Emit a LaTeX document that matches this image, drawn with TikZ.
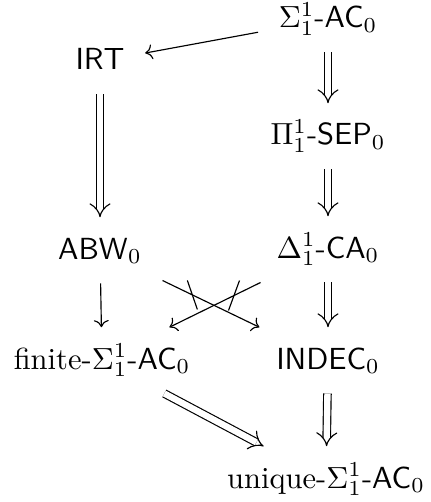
\documentclass[tikz,border=0pt]{standalone}
\usepackage{fix-cm}
\usetikzlibrary{arrows.meta,calc}
\begin{document}
\begin{tikzpicture}[x=0.3472pt,y=-0.3472pt,
  every node/.append style={font=\fontsize{10.6}{12.7}\selectfont},
  obj/.style={anchor=base,text height=8.5pt,text depth=2.5pt,inner xsep=7pt,inner ysep=5.8pt},
  sar/.style={-{To}},
  dar/.style={double,double distance=2.2pt,-{Implies}},
  negmark/.style={line width=0.4pt}]
\useasboundingbox (0,0) rectangle (430,502);
\node[obj] (sig) at (328,28) {$\Sigma^1_1$-$\mathsf{AC}_0$};
\node[obj] (irt) at (100,70) {$\mathsf{IRT}$};
\node[obj] (pi)  at (328,145) {$\Pi^1_1$-$\mathsf{SEP}_0$};
\node[obj] (abw) at (100,259) {$\mathsf{ABW}_0$};
\node[obj] (del) at (328,258) {$\Delta^1_1$-$\mathsf{CA}_0$};
\node[obj] (fin) at (102,369) {finite-$\Sigma^1_1$-$\mathsf{AC}_0$};
\node[obj] (ind) at (328,369) {$\mathsf{INDEC}_0$};
\node[obj] (uni) at (326,488) {unique-$\Sigma^1_1$-$\mathsf{AC}_0$};
\draw[sar] (sig) -- (irt);
\draw[dar] (sig) -- (pi);
\draw[dar] (pi) -- (del);
\draw[dar] (irt) -- (abw);
\draw[sar] (abw) -- (fin);
\draw[dar] (del) -- (ind);
\draw[sar] (abw) -- (ind);
\draw[sar] (del) -- (fin);
\draw[dar] (fin) -- (uni);
\draw[dar] (ind) -- (uni);
\path (abw.center) -- (ind.center) coordinate[pos=0.405] (m1);
\path (del.center) -- (fin.center) coordinate[pos=0.416] (m2);
\draw[negmark] ($(m1)+(-5,-14.5)$) -- ($(m1)+(5,14.5)$);
\draw[negmark] ($(m2)+(5.5,-15)$) -- ($(m2)+(-5.5,15)$);
\end{tikzpicture}
\end{document}
